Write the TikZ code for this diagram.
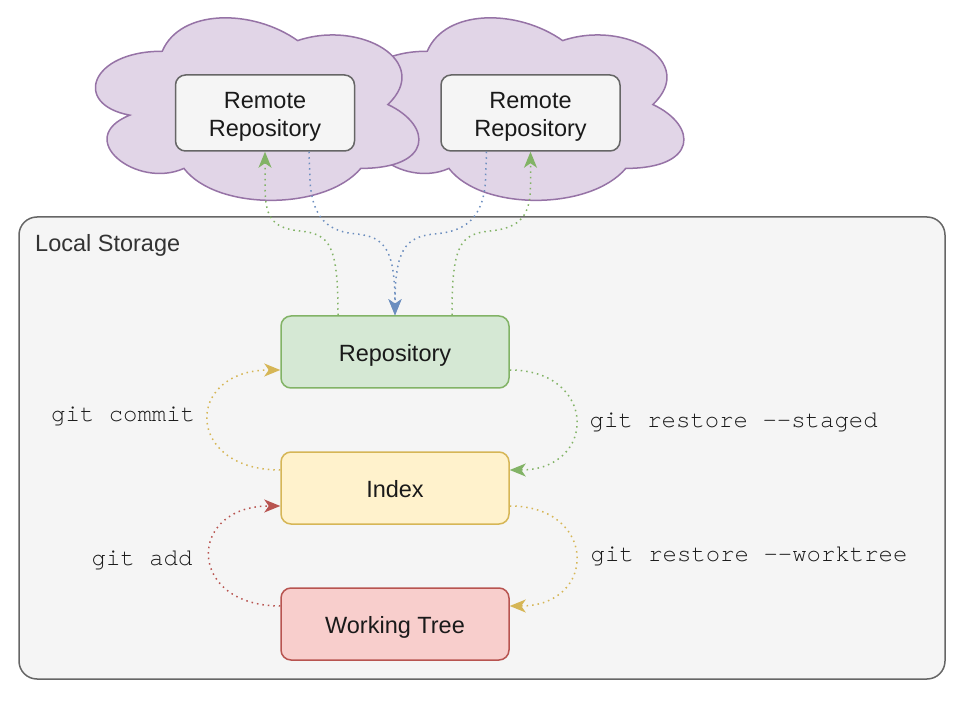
\documentclass[tikz,border=0pt]{standalone}
\usepackage{fontspec}
\setmainfont{Liberation Sans}
\newfontfamily\monofont{TeX Gyre Cursor}
\usetikzlibrary{arrows.meta,calc}
\definecolor{cloudfill}{HTML}{E1D5E7}
\definecolor{cloudline}{HTML}{9673A6}
\definecolor{grayfill}{HTML}{F5F5F5}
\definecolor{grayline}{HTML}{666666}
\definecolor{greenfill}{HTML}{D5E8D4}
\definecolor{greenline}{HTML}{82B366}
\definecolor{yellowfill}{HTML}{FFF2CC}
\definecolor{yellowline}{HTML}{D6B656}
\definecolor{redfill}{HTML}{F8CECC}
\definecolor{redline}{HTML}{B85450}
\definecolor{blueline}{HTML}{6C8EBF}
\definecolor{darktext}{HTML}{333333}
\definecolor{boxtext}{HTML}{1A1A1A}
\tikzset{
  cloudshape/.style={fill=cloudfill,draw=cloudline,line width=1.5pt},
  remotebox/.style={draw=grayline,fill=grayfill,line width=1.5pt,rounded corners=10pt,
    minimum width=179pt,minimum height=76pt,inner sep=0pt},
  remotetext/.style={inner sep=0pt,align=center,
    font=\fontsize{23.5}{28}\selectfont,text=boxtext},
  localbox/.style={line width=1.5pt,rounded corners=10pt,
    minimum width=228pt,minimum height=72pt,inner sep=0pt,
    text height=19.4pt,text depth=0pt,
    font=\fontsize{23.5}{28}\selectfont,text=boxtext},
  flow/.style={line width=1.5pt,dash pattern=on 1.5pt off 4pt,
    -{Stealth[length=16pt,width=13pt,inset=4.5pt]}},
  cmdlabel/.style={font=\monofont\fontsize{24}{28}\selectfont,text=boxtext,inner sep=0pt,anchor=base west}
}
\begin{document}
\begin{tikzpicture}[x=1pt,y=-1pt]
\useasboundingbox (0,0) rectangle (964,708);
% local storage container
\node[draw=grayline,fill=grayfill,line width=1.5pt,rounded corners=18pt,
  minimum width=926pt,minimum height=462pt,inner sep=0pt] (local) at (482,448) {};
\node[anchor=base west,inner sep=0pt,font=\fontsize{23.5}{28}\selectfont,text=darktext] (localtitle) at (35,252) {Local Storage};
% clouds (right drawn first, left on top)
\begin{scope}[shift={(337,-2)},xscale=361,yscale=213]
\path[cloudshape] (0.25,0.25) .. controls (0.05,0.25) and (0,0.5) .. (0.16,0.55)
  .. controls (0,0.66) and (0.18,0.9) .. (0.31,0.8)
  .. controls (0.4,1) and (0.7,1) .. (0.8,0.8)
  .. controls (1,0.8) and (1,0.6) .. (0.875,0.5)
  .. controls (1,0.3) and (0.8,0.1) .. (0.625,0.2)
  .. controls (0.5,0.05) and (0.3,0.05) .. (0.25,0.25) -- cycle;
\end{scope}
\begin{scope}[shift={(72,-2)},xscale=361,yscale=213]
\path[cloudshape] (0.25,0.25) .. controls (0.05,0.25) and (0,0.5) .. (0.16,0.55)
  .. controls (0,0.66) and (0.18,0.9) .. (0.31,0.8)
  .. controls (0.4,1) and (0.7,1) .. (0.8,0.8)
  .. controls (1,0.8) and (1,0.6) .. (0.875,0.5)
  .. controls (1,0.3) and (0.8,0.1) .. (0.625,0.2)
  .. controls (0.5,0.05) and (0.3,0.05) .. (0.25,0.25) -- cycle;
\end{scope}
% nodes
\node[remotebox] (rr1) at (265,113) {};
\node[remotetext] (rr1text) at (265,117) {Remote\\Repository};
\node[remotebox] (rr2) at (530.5,113) {};
\node[remotetext] (rr2text) at (530.5,117) {Remote\\Repository};
\node[localbox,draw=greenline,fill=greenfill] (repo) at (395,352) {Repository};
\node[localbox,draw=yellowline,fill=yellowfill] (index) at (395,488) {Index};
\node[localbox,draw=redline,fill=redfill] (wt) at (395,624) {Working Tree};
% remote connectors
\draw[flow,greenline] ($(repo.north)+(-57,0)$) .. controls (338,245) and (330,234) .. (300,231)
  .. controls (270,228) and (265,215) .. (265,185) -- (rr1.south);
\draw[flow,greenline] ($(repo.north)+(57,0)$) .. controls (452,245) and (460,234) .. (490,231)
  .. controls (521,228) and (530.5,215) .. (530.5,185) -- (rr2.south);
\draw[flow,blueline] ($(rr1.south)+(44,0)$) -- (310,180) .. controls (312,220) and (330,232) .. (357,234)
  .. controls (385,237) and (395,250) .. (repo.north);
\draw[flow,blueline] ($(rr2.south)+(-44,0)$) -- (485.5,180) .. controls (483.5,220) and (463,232) .. (434,234)
  .. controls (405,237) and (395,250) .. (repo.north);
% local loops
\draw[flow,yellowline] ($(index.west)+(0,-18)$) .. controls +(-96,0) and +(-96,0) .. ($(repo.west)+(0,18)$);
\draw[flow,redline] ($(wt.west)+(0,-18)$) .. controls +(-94,0) and +(-94,0) .. ($(index.west)+(0,18)$);
\draw[flow,greenline] ($(repo.east)+(0,18)$) .. controls +(88,0) and +(88,0) .. ($(index.east)+(0,-18)$);
\draw[flow,yellowline] ($(index.east)+(0,18)$) .. controls +(88,0) and +(88,0) .. ($(wt.east)+(0,-18)$);
% labels
\node[cmdlabel] (lcommit) at (51,421.5) {git commit};
\node[cmdlabel] (lstaged) at (589.5,428) {git restore --staged};
\node[cmdlabel] (ladd) at (91.5,565) {git add};
\node[cmdlabel] (lwork) at (590.5,561.5) {git restore --worktree};
\end{tikzpicture}
\end{document}
